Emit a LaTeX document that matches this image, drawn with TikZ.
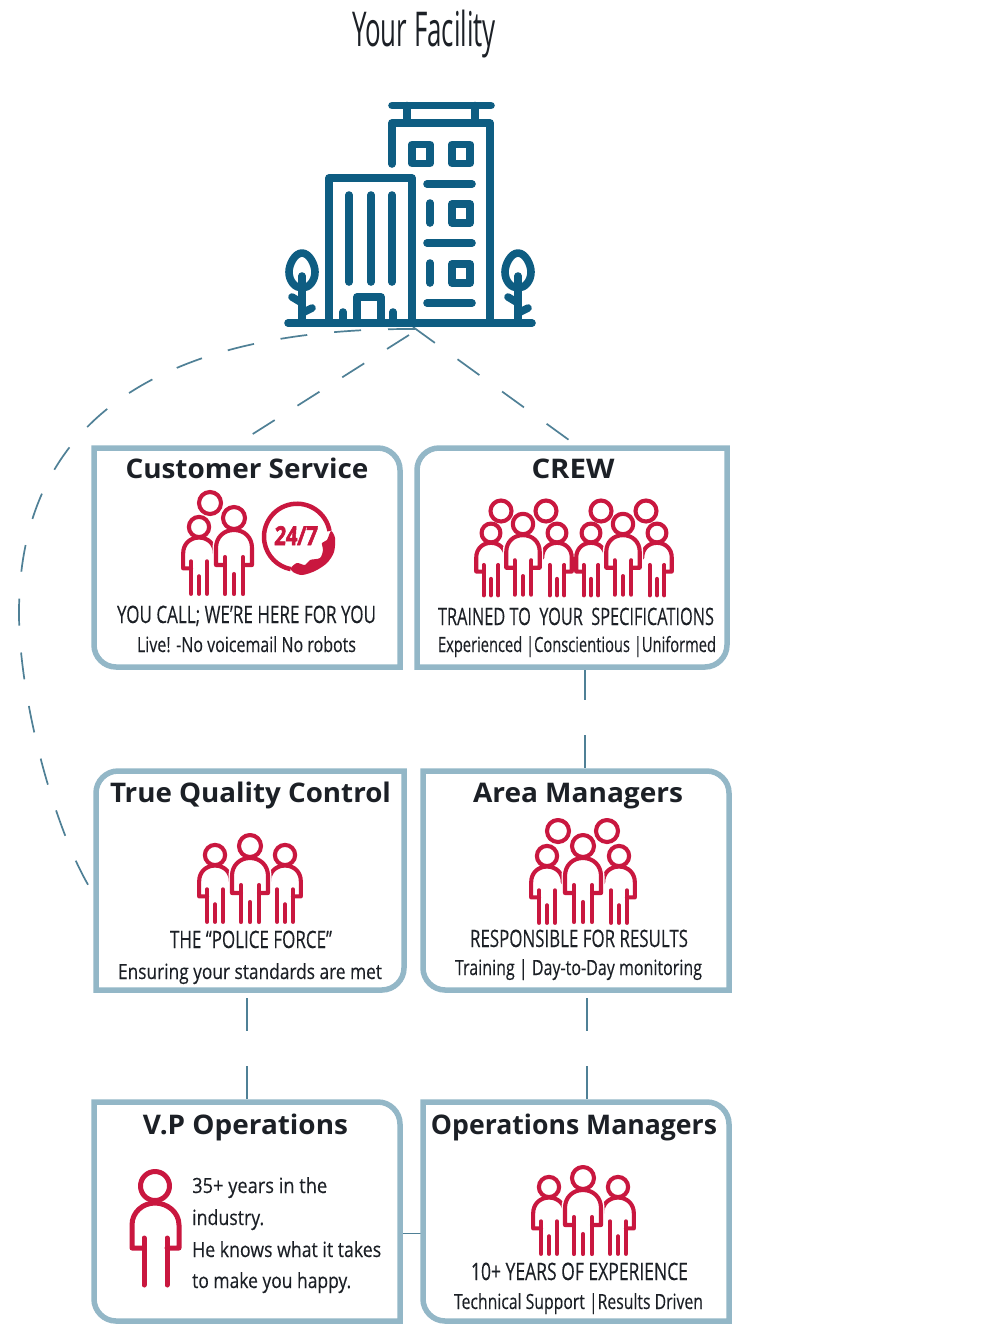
\documentclass[tikz,border=0pt]{standalone}
\usepackage{fontspec}
\usepackage{graphicx}
\setmainfont{Open Sans}
\newfontfamily\bodyf{Open Sans}[FakeBold=0.25]
\newfontfamily\clockf{Open Sans}[BoldFeatures={FakeBold=2.5,FakeSlant=0.08}]
\definecolor{bldg}{HTML}{0E5D82}
\definecolor{boxc}{HTML}{93B7C7}
\definecolor{linkc}{HTML}{4F8096}
\definecolor{redc}{HTML}{C9173F}
\definecolor{inkc}{HTML}{1C2026}
\newcommand\fitw[2]{\resizebox{#1pt}{\height}{#2}}
\tikzset{
  bld/.style={draw=bldg,line width=7.6pt,line cap=round,line join=round},
  redl/.style={draw=redc,line width=4.1pt,line cap=round,line join=round},
  boxn/.style={minimum width=306pt,minimum height=219pt,inner sep=0pt,outer sep=0pt},
  boxl/.style={draw=boxc,line width=5.5pt,line join=miter},
  link/.style={draw=linkc,line width=1.7pt},
  hlab/.style={anchor=base,inner sep=0pt,text=inkc,font=\fontsize{27}{27}\selectfont\bfseries},
  blab/.style={anchor=base,inner sep=0pt,text=inkc,font=\fontsize{24}{24}\selectfont\bodyf},
  slab/.style={anchor=base,inner sep=0pt,text=inkc,font=\fontsize{21}{21}\selectfont\bodyf},
  folk/.pic={
    \fill[white] (-18,47) -- (-18,30) .. controls (-18,19) and (-10,12) .. (0,12) .. controls (10,12) and (18,19) .. (18,30) -- (18,47) -- cycle;
    \draw[white,line width=7pt] (-18,47) -- (-18,30) .. controls (-18,19) and (-10,12) .. (0,12) .. controls (10,12) and (18,19) .. (18,30) -- (18,47);
    \draw[redl] (0,0) circle[radius=11];
    \draw[redl] (-9,47) -- (-18,47) -- (-18,30) .. controls (-18,19) and (-10,12) .. (0,12) .. controls (10,12) and (18,19) .. (18,30) -- (18,47) -- (9,47);
    \draw[redl] (-9,39) -- (-9,76);
    \draw[redl] (9,39) -- (9,76);
    \draw[redl] (0,56) -- (0,76);
  },
  sidefolk/.pic={
    \draw[redl] (0,0) circle[radius=11.5];
    \draw[redl] (-9,47) -- (-18,47) -- (-18,30) .. controls (-18,19) and (-10,12) .. (0,12) .. controls (10,12) and (18,19) .. (18,30);
    \draw[redl] (-9,39) -- (-9,76);
    \draw[redl] (9,39) -- (9,76);
    \draw[redl] (0,56) -- (0,76);
  }
}
\begin{document}
\begin{tikzpicture}[x=1pt,y=-1pt]
\useasboundingbox (0,0) rectangle (1005,1334);
\fill[white] (0,0) rectangle (1005,1334);

% box anchors
\node[boxn] (cs) at (247,557.5) {};
\node[boxn,minimum width=310pt] (crew) at (572,557.5) {};
\node[boxn,minimum width=308pt] (qc) at (250,880.5) {};
\node[boxn] (area) at (576,880.5) {};
\node[boxn] (vp) at (247,1211.5) {};
\node[boxn] (ops) at (576,1211.5) {};
\coordinate (fac) at (415,329);
\coordinate (facm) at (409,335);
\coordinate (facr) at (413,327);

% connectors
\draw[link,dash pattern=on 27pt off 27pt] (fac) .. controls (160,328) and (19,420) .. (19,613) .. controls (19,700) and (55,830) .. ([xshift=-6pt,yshift=-7.5pt]qc.west);
\draw[link,dash pattern=on 26pt off 27pt] (facm) -- ([xshift=1pt,yshift=11pt]cs.north);
\draw[link,dash pattern=on 27pt off 28pt] (facr) -- ([xshift=-3pt,yshift=8pt]crew.north);
\draw[link,dash pattern=on 33pt off 35pt] ([xshift=13pt]crew.south) -- ([xshift=9pt]area.north);
\draw[link,dash pattern=on 33pt off 35pt,shorten <=8pt] ([xshift=-3pt]qc.south) -- (vp.north);
\draw[link,dash pattern=on 33pt off 35pt,shorten <=8pt] ([xshift=11pt]area.south) -- ([xshift=11pt]ops.north);
\draw[link] ([yshift=-22pt]vp.east) -- ([yshift=-22pt]ops.west);

% box outlines
\def\R{22pt}
\def\C{10pt}
\foreach \n in {cs,area,vp,ops}{
  \draw[boxl] (\n.north west) -- ([xshift=-\R]\n.north east) .. controls ([xshift=-\C]\n.north east) and ([yshift=-\C]\n.north east) .. ([yshift=-\R]\n.north east) -- (\n.south east) -- ([xshift=\R]\n.south west) .. controls ([xshift=\C]\n.south west) and ([yshift=\C]\n.south west) .. ([yshift=\R]\n.south west) -- cycle;
}
\foreach \n in {crew,qc}{
  \draw[boxl] (\n.north east) -- ([yshift=\R]\n.south east) .. controls ([yshift=\C]\n.south east) and ([xshift=-\C]\n.south east) .. ([xshift=-\R]\n.south east) -- (\n.south west) -- ([yshift=-\R]\n.north west) .. controls ([yshift=-\C]\n.north west) and ([xshift=\C]\n.north west) .. ([xshift=\R]\n.north west) -- cycle;
}

% building
\draw[bld] (392,105.5) -- (491,105.5);
\draw[bld] (407,105.5) -- (407,122);
\draw[bld] (475,105.5) -- (475,122);
\draw[bld] (392,164) -- (392,123) -- (490,123) -- (490,323);
\draw[bld] (329,323) -- (329,178) -- (412,178) -- (412,323);
\draw[bld] (288,323) -- (532,323);
\foreach \xa/\ya in {412/144.5,452/144.5,452/204,452/264}{
  \draw[bld,line cap=butt] (\xa,\ya) rectangle (\xa+18,\ya+19);
}
\foreach \yy in {184,243,303}{\draw[bld] (427,\yy) -- (472,\yy);}
\draw[bld] (430,203) -- (430,223);
\draw[bld] (430,263) -- (430,283);
\foreach \xx in {349,371,392}{\draw[bld] (\xx,195) -- (\xx,282);}
\draw[bld] (357,323) -- (357,297) -- (381,297) -- (381,323);
\draw[bld] (343,312) -- (343,323);
\draw[bld] (393,312) -- (393,323);
\foreach \tr in {302,518}{
  \draw[bld] (\tr,253) .. controls (\tr+7,253) and (\tr+13,264) .. (\tr+13,272) .. controls (\tr+13,281) and (\tr+7,288) .. (\tr,288) .. controls (\tr-7,288) and (\tr-13,281) .. (\tr-13,272) .. controls (\tr-13,264) and (\tr-7,253) .. (\tr,253) -- cycle;
  \draw[bld] (\tr,276) -- (\tr,323);
  \draw[bld] (\tr-10,297) -- (\tr,303);
  \draw[bld] (\tr+10,308) -- (\tr,313);
}

% title
\node[anchor=base,inner sep=0pt,text=inkc,font=\fontsize{48}{48}\selectfont] (title) at (424,46) {\fitw{144}{Your Facility}};

% Customer Service
\node[hlab] (csh) at (247,478) {\fitw{243}{Customer Service}};
\draw[redl] (210,503) circle[radius=11];
\pic[scale=.88] at (199,527) {sidefolk};
\pic at (234,518) {folk};
\draw[redl,line width=4.5pt,line cap=butt] (329.5,531) arc[start angle=10,end angle=259,radius=33pt];
\fill[redc] plot[smooth cycle,tension=.5] coordinates {(331,531) (335,538) (334,552) (327,563) (315,571) (302,575) (293,572) (291,568) (297,563) (305,565) (310,560) (320,558) (323,550) (322,543) (327,540)};
\node[anchor=base,inner sep=0pt,text=redc,font=\fontsize{26}{26}\selectfont\clockf\bfseries] (cs247) at (295.5,545) {\fitw{43}{24/7}};
\node[blab] (csa) at (246.5,623) {\fitw{259}{YOU CALL; WE’RE HERE FOR YOU}};
\node[slab] (csb) at (246.5,652) {\fitw{219}{Live! -No voicemail No robots}};

% CREW
\node[hlab] (crewh) at (573,478) {\fitw{83}{CREW}};
\foreach \ox in {0,100}{
  \draw[redl] (501+\ox,511) circle[radius=10.5];
  \draw[redl] (546+\ox,511) circle[radius=10.5];
  \pic[scale=.82] at (491+\ox,533) {sidefolk};
  \pic[xscale=-.82,yscale=.82] at (557+\ox,533) {sidefolk};
  \pic[scale=.93] at (523+\ox,524) {folk};
}
\node[blab] (crewa) at (576,625) {\fitw{276}{TRAINED TO\ \ YOUR\ \ SPECIFICATIONS}};
\node[slab] (crewb) at (577,652) {\fitw{278}{Experienced |Conscientious |Uniformed}};

% True Quality Control
\node[hlab] (qch) at (250.5,802) {\fitw{281}{True Quality Control}};
\pic[scale=.88] at (215,855) {sidefolk};
\pic[xscale=-.88,yscale=.88] at (285,855) {sidefolk};
\pic at (250,846) {folk};
\node[blab] (qca) at (251,948) {\fitw{162}{THE “POLICE FORCE”}};
\node[slab] (qcb) at (250,979) {\fitw{264}{Ensuring your standards are met}};

% Area Managers
\node[hlab] (areah) at (578,802) {\fitw{210}{Area Managers}};
\draw[redl] (558,831) circle[radius=11];
\draw[redl] (607,831) circle[radius=11];
\pic[scale=.88] at (547,856) {sidefolk};
\pic[xscale=-.88,yscale=.88] at (619,856) {sidefolk};
\pic at (583,846) {folk};
\node[blab] (areaa) at (579,947) {\fitw{218}{RESPONSIBLE FOR RESULTS}};
\node[slab] (areab) at (578.5,975) {\fitw{247}{Training | Day-to-Day monitoring}};

% V.P Operations
\node[hlab] (vph) at (245.5,1134) {\fitw{205}{V.P Operations}};
\draw[redl,line width=5pt] (155,1186) circle[radius=14.5];
\draw[redl,line width=5pt] (144,1248) -- (132,1248) -- (132,1225) .. controls (132,1212) and (143,1203) .. (155,1203) .. controls (167,1203) and (179,1212) .. (179,1225) -- (179,1248) -- (167,1248);
\draw[redl,line width=5pt] (144,1238) -- (144,1285);
\draw[redl,line width=5pt] (167,1238) -- (167,1285);
\node[slab,anchor=base west] (vp1) at (192,1193) {\fitw{135}{35+ years in the}};
\node[slab,anchor=base west] (vp2) at (192,1225) {\fitw{72}{industry.}};
\node[slab,anchor=base west] (vp3) at (192,1257) {\fitw{189}{He knows what it takes}};
\node[slab,anchor=base west] (vp4) at (192,1288) {\fitw{159}{to make you happy.}};

% Operations Managers
\node[hlab] (opsh) at (574,1134) {\fitw{286}{Operations Managers}};
\pic[scale=.88] at (549,1187) {sidefolk};
\pic[xscale=-.88,yscale=.88] at (618,1187) {sidefolk};
\pic at (583,1178) {folk};
\node[blab] (opsa) at (579.5,1280) {\fitw{217}{10+ YEARS OF EXPERIENCE}};
\node[slab] (opsb) at (578.5,1309) {\fitw{249}{Technical Support |Results Driven}};
\end{tikzpicture}
\end{document}
